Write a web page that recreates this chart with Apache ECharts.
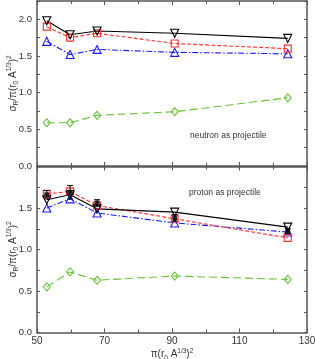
<!DOCTYPE html>
<html>
<head>
<meta charset="utf-8">
<script src="https://cdn.jsdelivr.net/npm/echarts@6/dist/echarts.min.js"></script>
<style>html,body{margin:0;padding:0;background:#fff}#c{width:315px;height:359px}</style>
</head>
<body>
<div id="c"></div>
<script>
// x positions: pi (r0 A^{1/3})^2
const xVals = [52.9, 59.8, 67.8, 90.8, 124.3];
// neutron as projectile (top panel)
const nBlack = [1.98, 1.79, 1.84, 1.81, 1.74];
const nRed   = [1.90, 1.75, 1.81, 1.67, 1.60];
const nBlue  = [1.70, 1.52, 1.59, 1.55, 1.53];
const nGreen = [0.59, 0.59, 0.69, 0.74, 0.93];
// proton as projectile (bottom panel)
const pBlack = [1.60, 1.66, 1.49, 1.45, 1.27];
const pRed   = [1.67, 1.70, 1.53, 1.37, 1.14];
const pBlue  = [1.50, 1.61, 1.44, 1.32, 1.21];
const pGreen = [0.55, 0.73, 0.63, 0.68, 0.64];
// experimental points with errors
const pExp    = [1.66, 1.69, 1.56, 1.38, 1.22];
const pExpErr = [0.05, 0.08, 0.04, 0.04, 0.03];
// tick labels
const xTickLabels = [50, 70, 90, 110, 130];
const yTickLabels = [0.0, 0.5, 1.0, 1.5, 2.0];
const panelLabels = ['neutron as projectile', 'proton as projectile'];

const FONT = 'Liberation Sans, Arial, sans-serif';
const frame = { color: '#555', width: 1.5 };
const pair = arr => arr.map((v, i) => [xVals[i], v]);

const titleRich = {
  a: { fontSize: 10, color: '#333', fontFamily: FONT, lineHeight: 14, verticalAlign: 'middle' },
  sub: { fontSize: 6.5, color: '#333', fontFamily: FONT, lineHeight: 8, verticalAlign: 'bottom' },
  sup: { fontSize: 6.5, color: '#333', fontFamily: FONT, lineHeight: 8, verticalAlign: 'top' }
};
const yTitleText = '{a|σ}{sub|R}{a|/π(r}{sub|0}{a| A}{sup|1/3}{a|)}{sup|2}';
const xTitleText = '{a|π(r}{sub|0}{a| A}{sup|1/3}{a|)}{sup|2}';

function yLabelFmt(v) {
  const hit = yTickLabels.find(t => Math.abs(t - v) < 1e-6);
  return hit === undefined ? '' : hit.toFixed(1);
}
function xLabelFmt(v) {
  return xTickLabels.indexOf(Math.round(v)) >= 0 ? String(Math.round(v)) : '';
}

function mkX(gridIndex, position, showLabels, nameOn) {
  return {
    type: 'value', gridIndex, position, min: 50, max: 130, interval: 20,
    axisLine: { show: true, onZero: false, lineStyle: frame },
    axisTick: { show: true, inside: true, length: 4, lineStyle: { color: '#555', width: 1 } },
    minorTick: { show: true, splitNumber: 2, length: 3, lineStyle: { color: '#555', width: 1 } },
    splitLine: { show: false },
    axisLabel: { show: showLabels, formatter: xLabelFmt, color: '#333', fontSize: 10, fontFamily: FONT, margin: 4 },
    name: nameOn ? xTitleText : '',
    nameLocation: 'middle', nameGap: 15, nameMoveOverlap: false,
    nameTextStyle: { rich: titleRich }
  };
}
function mkY(gridIndex, position, max, showLabels, nameOn) {
  return {
    type: 'value', gridIndex, position, min: 0, max, interval: 0.25,
    axisLine: { show: true, onZero: false, lineStyle: frame },
    axisTick: { show: true, inside: true, length: 3, lineStyle: { color: '#555', width: 1 } },
    splitLine: { show: false },
    axisLabel: { show: showLabels, formatter: yLabelFmt, color: '#333', fontSize: 9.5, fontFamily: FONT, margin: 5, showMaxLabel: max === 2.25 },
    name: nameOn ? yTitleText : '',
    nameLocation: 'middle', nameGap: 17, nameRotate: 90, nameMoveOverlap: false,
    nameTextStyle: { rich: titleRich }
  };
}

function lineSeries(data, xi, yi, color, type, symbol, size, rotate) {
  return {
    type: 'line', xAxisIndex: xi, yAxisIndex: yi, data: pair(data),
    symbol, symbolSize: size, symbolRotate: rotate || 0,
    lineStyle: { color, width: 1.1, type },
    itemStyle: { color: 'rgba(255,255,255,0)', borderColor: color, borderWidth: 1.1 },
    z: 3, animation: false
  };
}

const series = [
  lineSeries(nGreen, 0, 0, '#66c23a', [8, 4], 'diamond', [7, 8]),
  lineSeries(nBlue, 0, 0, '#1a1aff', [6, 2, 1.5, 2], 'triangle', 8),
  lineSeries(nRed, 0, 0, '#ff3030', [4, 2], 'rect', 7),
  lineSeries(nBlack, 0, 0, '#000', 'solid', 'triangle', 8, 180),
  lineSeries(pGreen, 2, 2, '#66c23a', [8, 4], 'diamond', [7, 8]),
  lineSeries(pBlue, 2, 2, '#1a1aff', [6, 2, 1.5, 2], 'triangle', 8),
  lineSeries(pRed, 2, 2, '#ff3030', [4, 2], 'rect', 7),
  lineSeries(pBlack, 2, 2, '#000', 'solid', 'triangle', 8, 180),
  {
    type: 'custom', xAxisIndex: 2, yAxisIndex: 2, z: 5, animation: false,
    data: pExp.map((v, i) => [xVals[i], v - pExpErr[i], v + pExpErr[i]]),
    renderItem: function (params, api) {
      const lo = api.coord([api.value(0), api.value(1)]);
      const hi = api.coord([api.value(0), api.value(2)]);
      const w = 3;
      const st = { stroke: '#000', lineWidth: 1 };
      return { type: 'group', children: [
        { type: 'line', shape: { x1: lo[0], y1: lo[1], x2: hi[0], y2: hi[1] }, style: st },
        { type: 'line', shape: { x1: lo[0] - w, y1: lo[1], x2: lo[0] + w, y2: lo[1] }, style: st },
        { type: 'line', shape: { x1: hi[0] - w, y1: hi[1], x2: hi[0] + w, y2: hi[1] }, style: st }
      ]};
    }
  },
  {
    type: 'scatter', xAxisIndex: 2, yAxisIndex: 2, data: pair(pExp),
    symbol: 'rect', symbolSize: 5, itemStyle: { color: '#000' }, z: 6, animation: false
  }
];

const chart = echarts.init(document.getElementById('c'), null, { renderer: 'canvas' });
chart.setOption({
  backgroundColor: '#fff',
  animation: false,
  grid: [
    { left: 37, right: 8, top: 1, height: 165, outerBoundsMode: 'none', containLabel: false },
    { left: 37, right: 8, top: 166.5, height: 166, outerBoundsMode: 'none', containLabel: false }
  ],
  xAxis: [
    mkX(0, 'bottom', false, false),
    mkX(0, 'top', false, false),
    mkX(1, 'bottom', true, true),
    mkX(1, 'top', false, false)
  ],
  yAxis: [
    mkY(0, 'left', 2.25, true, true),
    mkY(0, 'right', 2.25, false, false),
    mkY(1, 'left', 2.0, true, true),
    mkY(1, 'right', 2.0, false, false)
  ],
  graphic: [
    { type: 'text', left: 228 - 38, top: 131, style: { text: panelLabels[0], fill: '#333', font: '8.5px Liberation Sans' } },
    { type: 'text', left: 225 - 36, top: 188, style: { text: panelLabels[1], fill: '#333', font: '8.5px Liberation Sans' } }
  ],
  series
});
</script>
</body>
</html>
